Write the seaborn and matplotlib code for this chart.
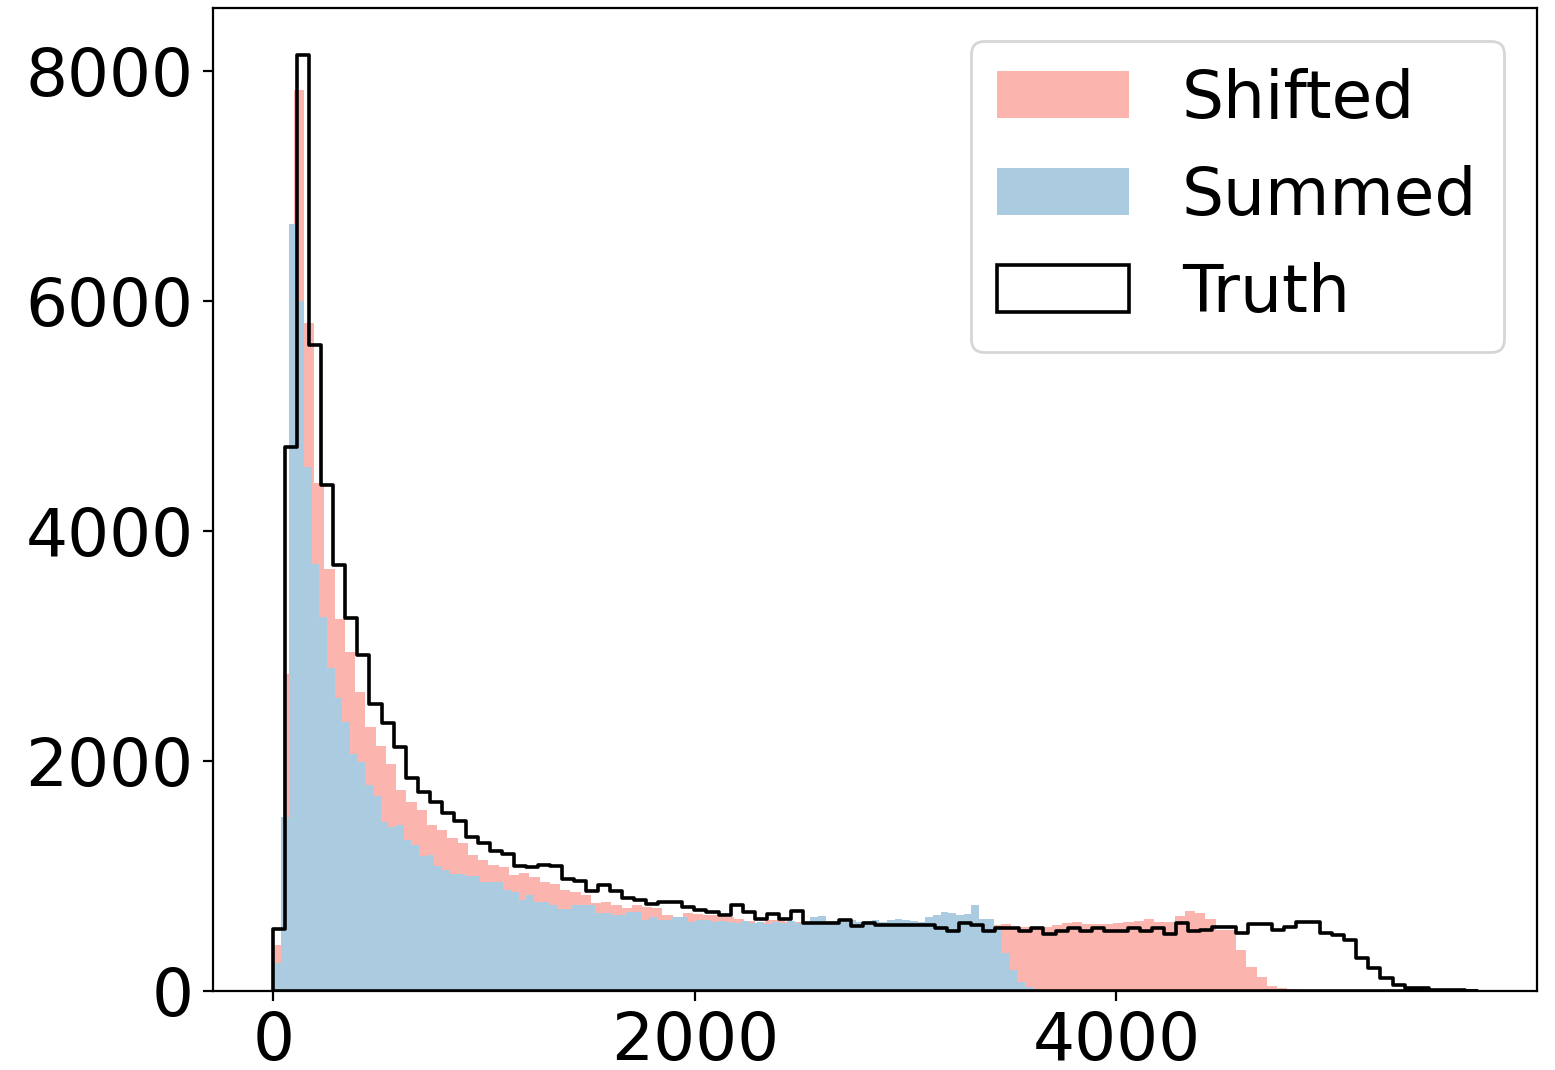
import numpy as np
import pandas as pd
import matplotlib
matplotlib.use("Agg")
import matplotlib.pyplot as plt
from matplotlib.patches import Patch
import seaborn as sns

# Histogram counts, 100 equal-width bins per series
series_labels = ["Shifted", "Summed", "Truth"]

shifted_range = (0.0, 4860.0)
shifted_counts = [
    400, 2760, 7835, 5807, 4419, 3670, 3236, 2944, 2597, 2293,
    2134, 1978, 1744, 1643, 1570, 1440, 1397, 1327, 1284, 1180,
    1137, 1093, 1079, 1007, 1022, 992, 949, 928, 876, 863,
    833, 763, 776, 746, 720, 746, 732, 720, 659, 645,
    680, 674, 659, 659, 645, 630, 610, 593, 616, 616,
    600, 600, 590, 585, 595, 580, 590, 585, 580, 590,
    585, 580, 590, 585, 580, 585, 590, 580, 585, 580,
    575, 580, 555, 555, 560, 560, 570, 590, 600, 585,
    580, 585, 590, 600, 610, 630, 600, 600, 650, 700,
    675, 630, 530, 530, 356, 205, 118, 48, 30, 15,
]

summed_range = (0.0, 3640.0)
summed_counts = [
    240, 1510, 6670, 6000, 4560, 3710, 3250, 2810, 2550, 2340,
    2065, 1990, 1790, 1700, 1470, 1430, 1440, 1310, 1270, 1170,
    1180, 1090, 1050, 1020, 1015, 998, 998, 949, 949, 949,
    876, 863, 790, 833, 775, 775, 746, 709, 709, 746,
    746, 746, 680, 680, 659, 659, 688, 688, 616, 645,
    616, 616, 645, 645, 601, 616, 616, 601, 610, 600,
    590, 605, 595, 600, 580, 600, 590, 610, 595, 600,
    640, 650, 610, 605, 600, 615, 600, 610, 620, 600,
    615, 625, 620, 610, 600, 645, 659, 688, 680, 659,
    673, 746, 625, 625, 558, 330, 182, 80, 37, 20,
]

truth_range = (0.0, 5710.0)
truth_counts = [
    540, 4730, 8140, 5620, 4400, 3700, 3240, 2920, 2500, 2330,
    2120, 1850, 1730, 1640, 1550, 1480, 1340, 1290, 1220, 1190,
    1090, 1080, 1100, 1085, 970, 960, 870, 920, 870, 805,
    795, 755, 775, 775, 730, 705, 685, 660, 745, 690,
    625, 670, 625, 695, 595, 595, 595, 615, 565, 595,
    570, 570, 570, 570, 570, 545, 525, 595, 570, 525,
    545, 545, 525, 545, 495, 525, 545, 525, 545, 525,
    525, 545, 525, 545, 495, 590, 525, 530, 555, 555,
    505, 585, 585, 530, 555, 600, 600, 505, 485, 445,
    285, 200, 115, 50, 25, 25, 10, 8, 5, 3,
]

shifted_color = "#fbb4ae"
summed_color = "#abcbe0"


def binned_frame(value_range, counts):
    edges = np.linspace(value_range[0], value_range[1], len(counts) + 1)
    centers = 0.5 * (edges[:-1] + edges[1:])
    frame = pd.DataFrame({"value": centers, "count": counts})
    return frame, edges.tolist()


plt.rcParams["font.size"] = 23.8

fig = plt.figure(figsize=(7.775, 5.35), dpi=200)
ax = fig.add_axes([0.137, 0.0738, 0.8514, 0.9187])

frame, edges = binned_frame(shifted_range, shifted_counts)
sns.histplot(data=frame, x="value", weights="count", bins=edges,
             element="step", fill=True, color=shifted_color, alpha=1,
             linewidth=0, ax=ax)

frame, edges = binned_frame(summed_range, summed_counts)
sns.histplot(data=frame, x="value", weights="count", bins=edges,
             element="step", fill=True, color=summed_color, alpha=1,
             linewidth=0, ax=ax)

frame, edges = binned_frame(truth_range, truth_counts)
sns.histplot(data=frame, x="value", weights="count", bins=edges,
             element="step", fill=True, color="black", facecolor="none",
             edgecolor="black", linewidth=1.3, ax=ax)

ax.set_xlabel("")
ax.set_ylabel("")
for spine in ax.spines.values():
    spine.set_zorder(5)

handles = [
    Patch(facecolor=shifted_color, linewidth=0),
    Patch(facecolor=summed_color, linewidth=0),
    Patch(facecolor="white", edgecolor="black", linewidth=1.3),
]
ax.legend(handles, series_labels, loc="upper right")

fig.savefig("out.png", dpi=200)
